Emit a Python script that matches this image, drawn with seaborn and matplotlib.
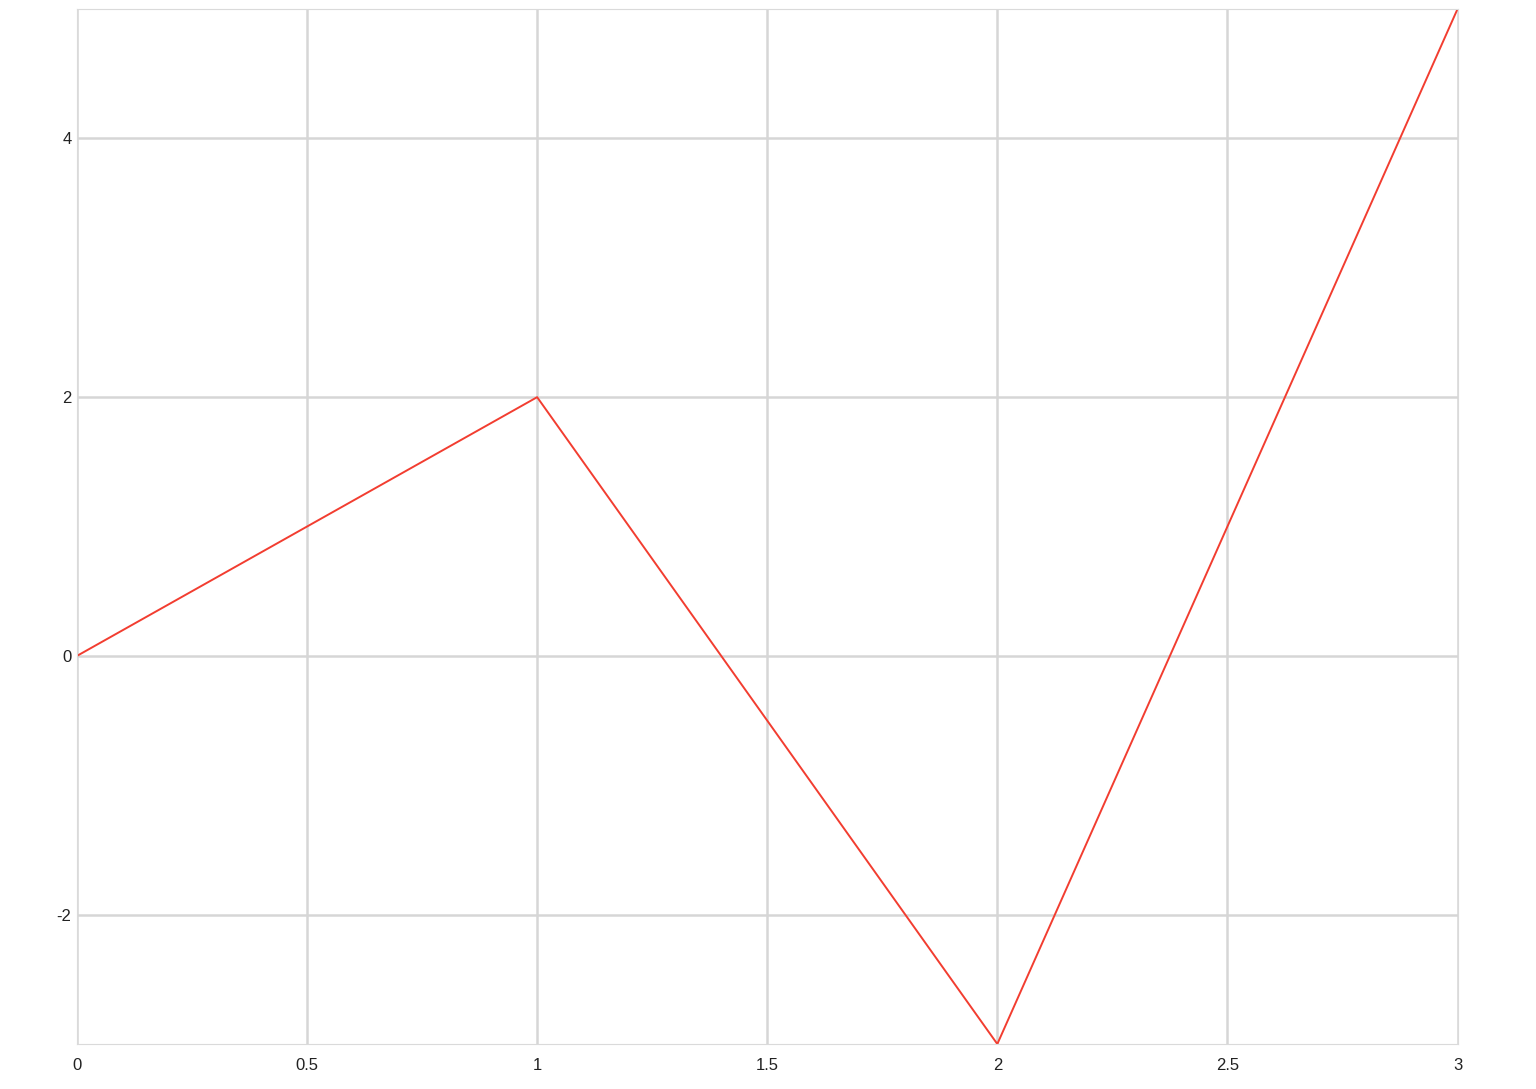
import pandas as pd
import matplotlib.pyplot as plt
import seaborn as sns

# Data
x_vals = [0, 1, 2, 3]
y_vals = [0, 2, -3, 5]
x_ticks = [0, 0.5, 1, 1.5, 2, 2.5, 3]
x_tick_labels = ["0", "0.5", "1", "1.5", "2", "2.5", "3"]
y_ticks = [-2, 0, 2, 4]
y_tick_labels = ["-2", "0", "2", "4"]

df = pd.DataFrame({"x": x_vals, "y": y_vals})

sns.set_style("white")
plt.rcParams['font.family'] = ['Liberation Sans', 'DejaVu Sans']
plt.rcParams['axes.unicode_minus'] = False

fig = plt.figure(figsize=(15.36, 10.89), dpi=100)
ax = fig.add_axes([0.0501, 0.0413, 0.8988, 0.9504])

sns.lineplot(data=df, x="x", y="y", ax=ax, color="#f23d30", linewidth=1.4)

ax.set_xlim(0, 3)
ax.set_ylim(-3, 5)
ax.set_xticks(x_ticks)
ax.set_xticklabels(x_tick_labels)
ax.set_yticks(y_ticks)
ax.set_yticklabels(y_tick_labels)
ax.set_xlabel("")
ax.set_ylabel("")

ax.grid(True, color="#d6d6d6", linewidth=1.8)
ax.set_axisbelow(True)
for s in ax.spines.values():
    s.set_color("#dadada")
    s.set_linewidth(0.8)

ax.tick_params(axis="both", length=0, labelsize=12, colors="#222222")
ax.tick_params(axis="x", pad=10)
ax.tick_params(axis="y", pad=4)

fig.savefig("out.png", dpi=100)
